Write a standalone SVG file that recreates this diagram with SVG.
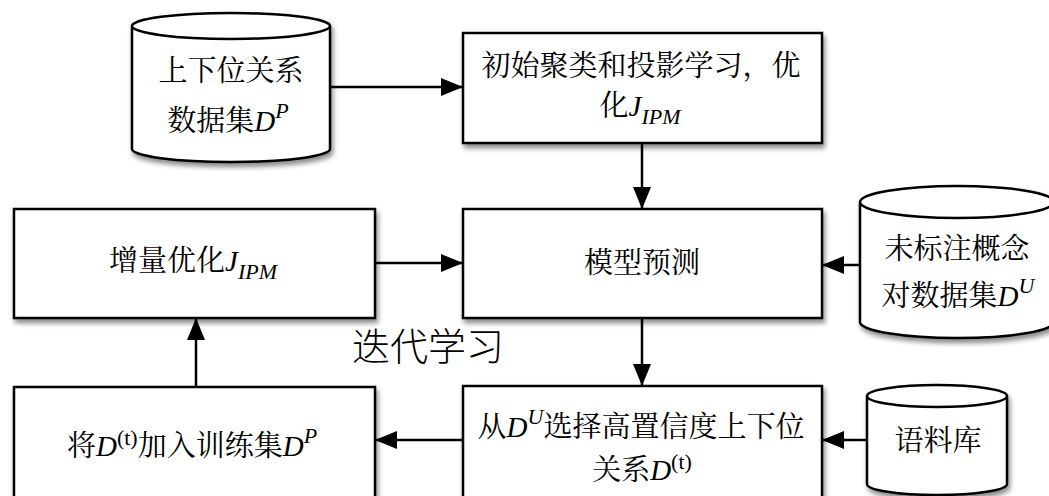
<svg xmlns="http://www.w3.org/2000/svg" width="1049" height="496" viewBox="0 0 1049 496">
<style>
.box{fill:#fff;stroke:#000;stroke-width:2.5;filter:url(#sh)}
.cyl{fill:#fff;stroke:#000;stroke-width:2.5}
.t{font-family:"Noto Serif CJK SC","Liberation Serif","Noto Sans CJK SC",serif;font-size:29px;fill:#000;text-anchor:middle}
.i{font-family:"Liberation Serif",serif;font-style:italic}
.r{font-family:"Liberation Serif",serif}
.c line{stroke:#000;stroke-width:2.5;marker-end:url(#ah)}
</style>
<defs>
<filter id="sh" x="-10%" y="-10%" width="130%" height="140%">
<feDropShadow dx="2" dy="4" stdDeviation="2.5" flood-color="#000" flood-opacity="0.45"/>
</filter>
<marker id="ah" markerUnits="userSpaceOnUse" markerWidth="24" markerHeight="18" refX="22" refY="9" orient="auto">
<path d="M0,0 L22,9 L0,18 Z" fill="#000"/>
</marker>
</defs>
<rect width="1049" height="496" fill="#fff"/>

<g id="cyl-hypernym">
<g filter="url(#sh)">
<path class="cyl" d="M132,26 L132,149 A99,13 0 0 0 330,149 L330,26"/>
<ellipse class="cyl" cx="231" cy="26" rx="99" ry="13"/>
</g>
<text class="t" x="231" y="81">上下位关系</text>
<text class="t" x="228" y="131">数据集<tspan class="i">D</tspan><tspan class="i" font-size="22" dy="-13">P</tspan></text>
</g>

<g id="box-init">
<rect class="box" x="463" y="33" width="359" height="110"/>
<text class="t" x="641" y="76">初始聚类和投影学习，优</text>
<text class="t" x="640" y="116">化<tspan class="i">J</tspan><tspan class="i" font-size="22" dy="8">IPM</tspan></text>
</g>

<g id="box-incr">
<rect class="box" x="14" y="209" width="361" height="109"/>
<text class="t" x="193" y="271">增量优化<tspan class="i">J</tspan><tspan class="i" font-size="22" dy="8">IPM</tspan></text>
</g>

<g id="box-predict">
<rect class="box" x="463" y="209" width="359" height="109"/>
<text class="t" x="642" y="273">模型预测</text>
</g>

<g id="cyl-unlabeled">
<g filter="url(#sh)">
<path class="cyl" d="M860,202 L860,322 A97,16 0 0 0 1054,322 L1054,202"/>
<ellipse class="cyl" cx="957" cy="202" rx="97" ry="16"/>
</g>
<text class="t" x="957" y="259">未标注概念</text>
<text class="t" x="958" y="306">对数据集<tspan class="i">D</tspan><tspan class="i" font-size="22" dy="-13">U</tspan></text>
</g>

<g id="box-add">
<rect class="box" x="14" y="387" width="361" height="115"/>
<text class="t" x="192" y="456">将<tspan class="i">D</tspan><tspan class="r" font-size="22" dy="-11">(t)</tspan><tspan dy="11">加入训练集</tspan><tspan class="i">D</tspan><tspan class="i" font-size="22" dy="-13">P</tspan></text>
</g>

<g id="box-select">
<rect class="box" x="463" y="386" width="359" height="115"/>
<text class="t" x="641" y="437">从<tspan class="i">D</tspan><tspan class="i" font-size="22" dy="-13">U</tspan><tspan dy="13">选择高置信度上下位</tspan></text>
<text class="t" x="642" y="480">关系<tspan class="i">D</tspan><tspan class="r" font-size="22" dy="-11">(t)</tspan></text>
</g>

<g id="cyl-corpus">
<g filter="url(#sh)">
<path class="cyl" d="M867,396 L867,484 A70,11 0 0 0 1007,484 L1007,396"/>
<ellipse class="cyl" cx="937" cy="396" rx="70" ry="11"/>
</g>
<text class="t" x="938" y="451">语料库</text>
</g>

<g id="label-iter">
<text class="t" x="428" y="360" style="font-size:38px;font-weight:300;font-family:'Noto Sans CJK SC',sans-serif">迭代学习</text>
</g>

<g id="connectors" class="c">
<line x1="331" y1="87" x2="463" y2="87"/>
<line x1="642" y1="143" x2="642" y2="209"/>
<line x1="375" y1="263" x2="463" y2="263"/>
<line x1="860" y1="265" x2="822" y2="265"/>
<line x1="642" y1="318" x2="642" y2="386"/>
<line x1="867" y1="440" x2="822" y2="440"/>
<line x1="463" y1="440" x2="375" y2="440"/>
<line x1="196" y1="387" x2="196" y2="318"/>
</g>
</svg>
